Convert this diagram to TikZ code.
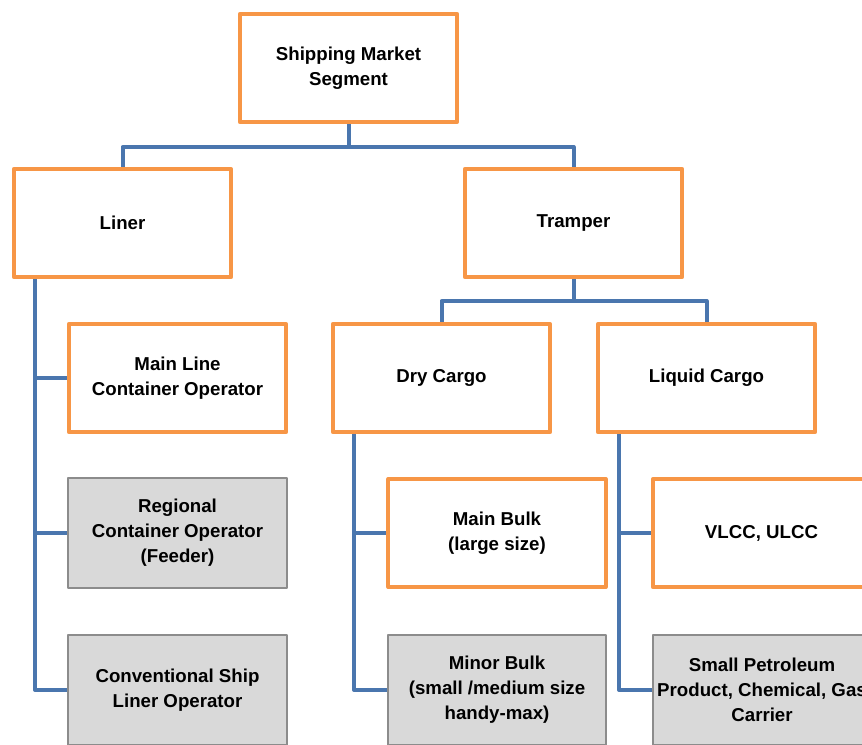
\documentclass[tikz,border=0pt]{standalone}
\usepackage{fontspec}
\setmainfont{Liberation Sans}
\usetikzlibrary{positioning,calc}
\definecolor{segorange}{HTML}{F79646}
\definecolor{segblue}{HTML}{4A76AE}
\definecolor{boxgray}{HTML}{D9D9D9}
\definecolor{linegray}{HTML}{8C8C8C}

\begin{document}
\begin{tikzpicture}[x=0.75pt,y=-0.75pt,line join=round]
	\tikzset{segment/.style = {shape=rectangle,draw=segorange,line width=3pt,fill=white,minimum width=163pt,minimum height=81pt,inner sep=0pt,align=center,font=\bfseries\fontsize{14}{18.75}\selectfont}}
	\tikzset{minor/.style = {segment,draw=linegray,line width=1.5pt,fill=boxgray,minimum width=164pt,minimum height=82.5pt}}
	\tikzset{link/.style = {draw=segblue,line width=3pt}}
	\useasboundingbox (0,0) rectangle (862,744);
	\clip (0,0) rectangle (862,744);
	% vertices
	\node[segment] (market) at (348.5,68) {Shipping Market\\Segment};
	\node[segment] (liner) at (122.5,223) {Liner};
	\node[segment] (tramper) at (573.5,223) {Tramper};
	\node[segment] (mainline) at (177.5,378) {Main Line\\Container Operator};
	\node[segment] (dry) at (441.5,378) {Dry Cargo};
	\node[segment] (liquid) at (706.5,378) {Liquid Cargo};
	\node[minor] (regional) at (177.5,533) {Regional\\Container Operator\\(Feeder)};
	\node[segment] (mainbulk) at (497,533) {Main Bulk\\(large size)};
	\node[segment] (vlcc) at (761.5,533) {VLCC, ULCC};
	\node[minor] (conventional) at (177.5,690) {Conventional Ship\\Liner Operator};
	\node[minor] (minorbulk) at (497,690) {Minor Bulk\\(small /medium size\\handy-max)};
	\node[minor] (smallpet) at (762,690) {Small Petroleum\\Product, Chemical, Gas\\Carrier};
	\coordinate (linerfoot) at ($(liner.south west)!0.105!(liner.south east)$);
	\coordinate (dryfoot) at ($(dry.south west)!0.105!(dry.south east)$);
	\coordinate (liquidfoot) at ($(liquid.south west)!0.105!(liquid.south east)$);
	%edges
	\draw[link] (market.south) -- ++(0,23) -| (liner.north);
	\draw[link] (market.south) -- ++(0,23) -| (tramper.north);
	\draw[link] (tramper.south) -- ++(0,22) -| (dry.north);
	\draw[link] (tramper.south) -- ++(0,22) -| (liquid.north);
	\draw[link] (linerfoot) |- (mainline.west);
	\draw[link] (linerfoot) |- (regional.west);
	\draw[link] (linerfoot) |- (conventional.west);
	\draw[link] (dryfoot) |- (mainbulk.west);
	\draw[link] (dryfoot) |- (minorbulk.west);
	\draw[link] (liquidfoot) |- (vlcc.west);
	\draw[link] (liquidfoot) |- (smallpet.west);
\end{tikzpicture}
\end{document}
